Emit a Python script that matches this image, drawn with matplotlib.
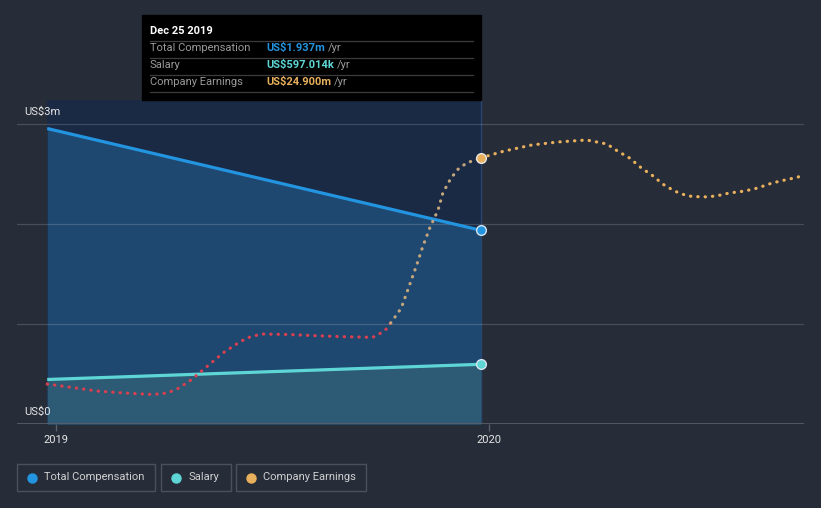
import matplotlib
matplotlib.use('Agg')
import matplotlib.pyplot as plt
import matplotlib.dates as mdates
from matplotlib.patches import Rectangle
from matplotlib.lines import Line2D
import numpy as np
import pandas as pd

plt.rcParams['font.family'] = ['Roboto', 'DejaVu Sans']

# ---------------- data ----------------
comp_dates = ['2018-12-25', '2019-12-25']
total_comp = [2.955, 1.937]      # US$ m
salary = [0.445, 0.597]          # US$ m

earn_dates = ['2018-12-25', '2019-01-12', '2019-02-05', '2019-02-28', '2019-03-24',
              '2019-04-05', '2019-04-15', '2019-04-25', '2019-05-04', '2019-05-13',
              '2019-05-22', '2019-06-01', '2019-06-11', '2019-06-23', '2019-07-16',
              '2019-08-09', '2019-09-01', '2019-09-25', '2019-10-05', '2019-10-12',
              '2019-10-19', '2019-10-26', '2019-11-01', '2019-11-06', '2019-11-12',
              '2019-11-19', '2019-11-23', '2019-11-29', '2019-12-05', '2019-12-13',
              '2019-12-25', '2020-01-13', '2020-02-06', '2020-02-28', '2020-03-23',
              '2020-04-09', '2020-04-18', '2020-04-28', '2020-05-08', '2020-05-18',
              '2020-05-26', '2020-06-05', '2020-06-16', '2020-06-29', '2020-07-10',
              '2020-07-21', '2020-08-03', '2020-08-14', '2020-08-26', '2020-09-06',
              '2020-09-17', '2020-09-22']
earnings = [-9.2, -9.65, -10.26, -10.56, -10.78,
            -10.56, -9.8, -8.6, -7.24, -5.88,
            -4.52, -3.32, -2.26, -1.66, -1.73,
            -1.92, -2.07, -2.16, -1.21, 0.45,
            2.26, 5.73, 8.75, 11.46, 14.33,
            17.04, 19.6, 21.57, 23.08, 24.13,
            24.9, 25.9, 26.85, 27.3, 27.6,
            27.0, 25.94, 24.9, 23.4, 22.17,
            20.96, 19.9, 19.15, 19.0, 19.15,
            19.6, 19.9, 20.36, 21.1, 21.57,
            22.0, 22.6]                   # US$ m

x_ticks = ['2019-01-01', '2020-01-01']
x_tick_labels = ['2019', '2020']
y_label_values = [0, 3]
y_label_texts = ['US$0', 'US$3m']
grid_values = [1, 2, 3]
legend_labels = ['Total Compensation', 'Salary', 'Company Earnings']

tooltip_title = 'Dec 25 2019'
tooltip_rows = [('Total Compensation', 'US$1.937m'),
                ('Salary', 'US$597.014k'),
                ('Company Earnings', 'US$24.900m')]

# ---------------- style ----------------
BG = '#262c38'
HL = '#1a2944'
COMP_C = '#2394e0'
COMP_FILL = '#1f4870'
SAL_C = '#5fd6d6'
SAL_FILL = '#2d5a74'
EARN_C = '#e8b05c'
EARN_IN = '#c4a67c'
EARN_NEG = '#d94050'
TXT = '#e6e6e6'

W, H = 821, 508
fig = plt.figure(figsize=(W / 100, H / 100), dpi=100, facecolor=BG)

def fx(px):
    return px / W

def fy(py):
    return 1 - py / H

ax_left, ax_right, ax_top, ax_bot = 17, 804, 100, 424
ax = fig.add_axes([fx(ax_left), fy(ax_bot), fx(ax_right - ax_left), (ax_bot - ax_top) / H])
ax.set_facecolor(BG)
for s in ax.spines.values():
    s.set_visible(False)

cd = pd.to_datetime(comp_dates)
ed = pd.to_datetime(earn_dates)
xmin = pd.Timestamp('2018-11-29 14:00')
xmax = pd.Timestamp('2020-09-22')
ax.set_xlim(xmin, xmax)
ax.set_ylim(0, 3.24)

# highlight region
ax.axvspan(cd[0], cd[-1], color=HL, zorder=0, lw=0)
ax.axvline(cd[-1], color='#2a4670', lw=1, zorder=1)

# fills
ax.fill_between(cd, 0, total_comp, color=COMP_FILL, lw=0, zorder=1)
ax.fill_between(cd, 0, salary, color=SAL_FILL, lw=0, zorder=2)

# grid
for g in grid_values:
    ax.axhline(g, color='white', alpha=0.16, lw=0.9, zorder=3)
ax.axhline(0, color='#5b616b', lw=1.2, zorder=3)

# lines
ax.plot(cd, total_comp, color=COMP_C, lw=2.3, zorder=5, solid_capstyle='butt')
ax.plot(cd, salary, color=SAL_C, lw=2.3, zorder=5, solid_capstyle='butt')
ax.plot([cd[-1]], [total_comp[-1]], 'o', ms=7, mfc=COMP_C, mec='#d8e4f0', mew=1, zorder=8)
ax.plot([cd[-1]], [salary[-1]], 'o', ms=7, mfc=SAL_C, mec='#d8e4f0', mew=1, zorder=8)

# y labels (x in figure pixels, y in data)
ytrans = matplotlib.transforms.blended_transform_factory(fig.transFigure, ax.transData)
for v, t in zip(y_label_values, y_label_texts):
    ax.text(fx(24), v + 0.07, t, transform=ytrans, color=TXT, fontsize=8,
            ha='left', va='bottom', zorder=9)

# x ticks
ax.set_xticks(pd.to_datetime(x_ticks))
ax.set_xticklabels(x_tick_labels)
ax.tick_params(axis='x', colors='#5b616b', labelcolor=TXT, labelsize=8, length=5, width=1, pad=3)
ax.set_yticks([])

# earnings on hidden secondary axis
ax2 = ax.twinx()
ax2.set_ylim(-15.23, 33.63)
ax2.set_yticks([])
for s in ax2.spines.values():
    s.set_visible(False)
xn = mdates.date2num(ed)
ev = np.array(earnings)
i = int(np.where((ev[:-1] < 0) & (ev[1:] >= 0))[0][0])
xc = xn[i] + (0 - ev[i]) * (xn[i + 1] - xn[i]) / (ev[i + 1] - ev[i])
k = int(np.where(xn == mdates.date2num(cd[-1]))[0][0])
neg_x = np.r_[xn[:i + 1], xc]
neg_y = np.r_[ev[:i + 1], 0]
pin_x = np.r_[xc, xn[i + 1:k + 1]]
pin_y = np.r_[0, ev[i + 1:k + 1]]
fut_x = xn[k:]
fut_y = ev[k:]
dot = dict(lw=2.3, ls=(0, (0.1, 2.2)), dash_capstyle='round', zorder=6)
ax2.plot(neg_x, neg_y, color=EARN_NEG, **dot)
ax2.plot(pin_x, pin_y, color=EARN_IN, **dot)
ax2.plot(fut_x, fut_y, color=EARN_C, **dot)
ax2.plot([xn[k]], [ev[k]], 'o', ms=7, mfc=EARN_C, mec='#e8e8e8', mew=1, zorder=8)
ax2.set_xlim(mdates.date2num(xmin), mdates.date2num(xmax))

# ---------------- tooltip ----------------
fig.add_artist(Rectangle((fx(142), fy(100)), fx(481 - 142), (100 - 15) / H,
                         transform=fig.transFigure, color='#000000', zorder=10))
fig.text(fx(150), fy(31), tooltip_title, color='white', fontsize=8, fontweight='bold',
         ha='left', va='center', zorder=11)
row_y = [48, 65, 82]
sep_y = [41, 58, 75, 92]
for sy in sep_y:
    fig.add_artist(Line2D([fx(150), fx(473)], [fy(sy), fy(sy)], transform=fig.transFigure,
                          color='#3c3c3c', lw=0.9, zorder=11))
val_colors = [COMP_C, SAL_C, EARN_C]
for (lab, val), yy, vc in zip(tooltip_rows, row_y, val_colors):
    fig.text(fx(150), fy(yy), lab, color='#9a9a9a', fontsize=8, ha='left', va='center', zorder=11)
    t = fig.text(fx(266), fy(yy), val, color=vc, fontsize=8, fontweight='bold',
                 ha='left', va='center', zorder=11)
    fig.canvas.draw()
    bb = t.get_window_extent()
    fig.text(bb.x1 / W + fx(3), fy(yy), '/yr', color='#9a9a9a', fontsize=8,
             ha='left', va='center', zorder=11)

# ---------------- legend ----------------
boxes = [(17, 155), (161, 231), (236, 366)]
leg_colors = [COMP_C, SAL_C, EARN_C]
for (x0, x1), lab, c in zip(boxes, legend_labels, leg_colors):
    fig.add_artist(Rectangle((fx(x0), fy(491)), fx(x1 - x0), (491 - 464) / H,
                             transform=fig.transFigure, facecolor='none',
                             edgecolor='#4a515d', lw=1, zorder=10))
    fig.add_artist(Line2D([fx(x0 + 15)], [fy(477.5)], transform=fig.transFigure, marker='o',
                          ms=6.5, mfc=c, mec=c, lw=0, zorder=11))
    fig.text(fx(x0 + 27), fy(477.5), lab, color='#d0d0d0', fontsize=8, ha='left',
             va='center', zorder=11)

fig.savefig('out.png', dpi=100, facecolor=BG)
